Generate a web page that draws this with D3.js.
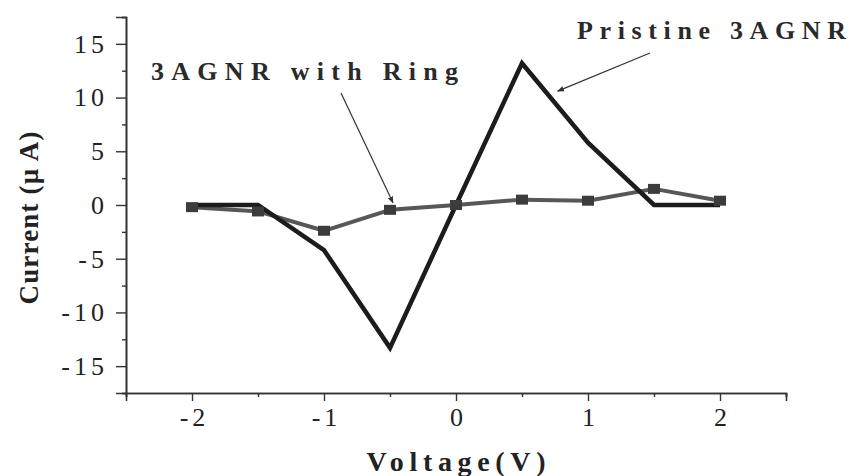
<!DOCTYPE html>
<html>
<head>
<meta charset="utf-8">
<script src="https://cdn.jsdelivr.net/npm/d3@7"></script>
<style>
  html, body { margin: 0; padding: 0; background: #fff; }
  svg { display: block; }
</style>
</head>
<body>
<svg id="chart" width="849" height="476"></svg>
<script>
// I–V characteristics of the two nanoribbon devices
const voltage  = [-2, -1.5, -1, -0.5, 0, 0.5, 1, 1.5, 2];
const pristine = [0, 0, -4.2, -13.3, 0, 13.2, 5.8, 0, 0];
const ring     = [-0.2, -0.6, -2.4, -0.45, 0, 0.5, 0.4, 1.5, 0.4];

const xTicks = [-2, -1, 0, 1, 2];
const xMinorTicks = [-2.5, -1.5, -0.5, 0.5, 1.5, 2.5];
const yTicks = [-15, -10, -5, 0, 5, 10, 15];
const yMinorTicks = [-17.5, -12.5, -7.5, -2.5, 2.5, 7.5, 12.5, 17.5];

const xLabel = "Voltage(V)";
const yLabel = "Current (\u00B5 A)";
const ringLabel = "3AGNR with Ring";
const pristineLabel = "Pristine 3AGNR";

const FONT = "'Liberation Serif', 'Times New Roman', Times, Tinos, 'DejaVu Serif', serif";

const W = 849, H = 476;
const margin = { left: 126, right: 63, top: 17, bottom: 83 };

const svg = d3.select("#chart");

const x = d3.scaleLinear().domain([-2.5, 2.5]).range([margin.left, W - margin.right]);
const y = d3.scaleLinear().domain([-17.5, 17.5]).range([H - margin.bottom, margin.top]);

// ---- axes ----
const axisColor = "#333";

const xMinor = svg.append("g")
  .attr("transform", `translate(0,${y(-17.5)})`)
  .call(d3.axisBottom(x).tickValues(xMinorTicks).tickSize(4).tickFormat(""));
const xMajor = svg.append("g")
  .attr("transform", `translate(0,${y(-17.5)})`)
  .call(d3.axisBottom(x).tickValues(xTicks).tickSize(8).tickPadding(7)
        .tickFormat(d => String(d)));

const yMinor = svg.append("g")
  .attr("transform", `translate(${x(-2.5)},0)`)
  .call(d3.axisLeft(y).tickValues(yMinorTicks).tickSize(4).tickFormat(""));
const yMajor = svg.append("g")
  .attr("transform", `translate(${x(-2.5)},0)`)
  .call(d3.axisLeft(y).tickValues(yTicks).tickSize(10).tickPadding(8)
        .tickFormat(d => String(d)));

[xMinor, xMajor, yMinor, yMajor].forEach(g => {
  g.attr("font-family", FONT);
  g.select(".domain").attr("stroke", axisColor).attr("stroke-width", 1.6);
  g.selectAll(".tick line").attr("stroke", axisColor).attr("stroke-width", 1.4);
  g.selectAll(".tick text")
    .attr("font-family", FONT)
    .attr("font-size", 26)
    .attr("letter-spacing", "4px")
    .attr("fill", "#222");
});
xMajor.selectAll(".tick text").attr("dx", "2px");

// ---- axis titles ----
svg.append("text")
  .attr("x", x(0)).attr("y", 471)
  .attr("text-anchor", "middle")
  .attr("font-family", FONT)
  .attr("font-weight", "bold")
  .attr("font-size", 28)
  .attr("fill", "#222")
  .attr("textLength", 179).attr("lengthAdjust", "spacing")
  .text(xLabel);

svg.append("text")
  .attr("transform", `translate(38,${218}) rotate(-90)`)
  .attr("text-anchor", "middle")
  .attr("font-family", FONT)
  .attr("font-weight", "bold")
  .attr("font-size", 27)
  .attr("fill", "#222")
  .attr("textLength", 173).attr("lengthAdjust", "spacing")
  .text(yLabel);

// ---- series ----
const line = d3.line().x((d, i) => x(voltage[i])).y(d => y(d));

svg.append("path")
  .datum(ring)
  .attr("fill", "none")
  .attr("stroke", "#575757")
  .attr("stroke-width", 4)
  .attr("stroke-linejoin", "round")
  .attr("d", line);

svg.append("path")
  .datum(pristine)
  .attr("fill", "none")
  .attr("stroke", "#1c1c1c")
  .attr("stroke-width", 4.5)
  .attr("stroke-linejoin", "miter")
  .attr("d", line);

const mw = 12, mh = 10;
svg.append("g").selectAll("rect")
  .data(ring)
  .join("rect")
  .attr("x", (d, i) => x(voltage[i]) - mw / 2)
  .attr("y", d => y(d) - mh / 2)
  .attr("width", mw).attr("height", mh)
  .attr("fill", "#3c3c3c");

// ---- annotations ----
const defs = svg.append("defs");
defs.append("marker")
  .attr("id", "arrowhead")
  .attr("viewBox", "0 0 10 10")
  .attr("refX", 9).attr("refY", 5)
  .attr("markerWidth", 7).attr("markerHeight", 7)
  .attr("markerUnits", "userSpaceOnUse")
  .attr("orient", "auto")
  .append("path")
  .attr("d", "M0,1 L10,5 L0,9 z")
  .attr("fill", "#333");

svg.append("text")
  .attr("x", 151).attr("y", 80)
  .attr("font-family", FONT)
  .attr("font-weight", "bold")
  .attr("font-size", 26)
  .attr("fill", "#2a2a2a")
  .attr("textLength", 307).attr("lengthAdjust", "spacing")
  .text(ringLabel);

svg.append("text")
  .attr("x", 577).attr("y", 39)
  .attr("font-family", FONT)
  .attr("font-weight", "bold")
  .attr("font-size", 26)
  .attr("fill", "#2a2a2a")
  .attr("textLength", 269).attr("lengthAdjust", "spacing")
  .text(pristineLabel);

// arrow to the ring curve at -0.5 V
svg.append("line")
  .attr("x1", 341).attr("y1", 93)
  .attr("x2", x(-0.5) + 3).attr("y2", y(ring[3]) - 7)
  .attr("stroke", "#333").attr("stroke-width", 1.2)
  .attr("marker-end", "url(#arrowhead)");

// arrow to the pristine curve on its falling edge
svg.append("line")
  .attr("x1", 650).attr("y1", 53)
  .attr("x2", x(0.77)).attr("y2", y(10.6))
  .attr("stroke", "#333").attr("stroke-width", 1.2)
  .attr("marker-end", "url(#arrowhead)");
</script>
</body>
</html>
